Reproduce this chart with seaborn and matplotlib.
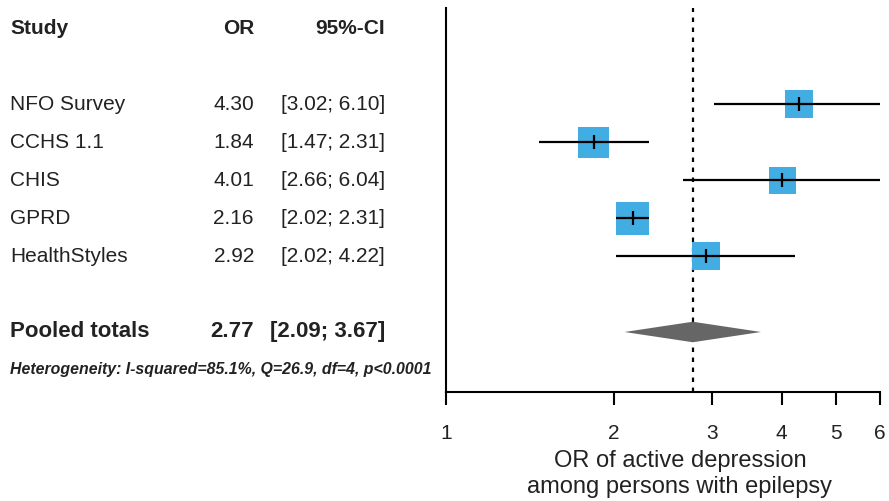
import matplotlib
matplotlib.use("Agg")
import matplotlib.pyplot as plt
import matplotlib.transforms as mtransforms
import numpy as np
import pandas as pd
import seaborn as sns

studies = ["NFO Survey", "CCHS 1.1", "CHIS", "GPRD", "HealthStyles"]
odds_ratio = [4.30, 1.84, 4.01, 2.16, 2.92]
ci_low = [3.02, 1.47, 2.66, 2.02, 2.02]
ci_high = [6.10, 2.31, 6.04, 2.31, 4.22]
weights = [18.0, 22.1, 16.8, 25.1, 18.0]

pooled_or = 2.77
pooled_low = 2.09
pooled_high = 3.67
heterogeneity = "Heterogeneity: I-squared=85.1%, Q=26.9, df=4, p<0.0001"

xticks = [1, 2, 3, 4, 5, 6]

df = pd.DataFrame({"Study": studies, "OR": odds_ratio, "lo": ci_low,
                   "hi": ci_high, "weight": weights})
df["row"] = np.arange(len(df)) + 2
pooled_row = 8
het_row = 9

sns.set_style("white")
plt.rcParams["font.family"] = ["Liberation Sans", "DejaVu Sans"]
txt_col = "#222222"

fig = plt.figure(figsize=(8.89, 5.01), dpi=100)
ax = fig.add_axes([446 / 889, 109 / 501, 434 / 889, 384 / 501])
ax.set_xscale("log")

# study boxes (area ~ weight)
k = 22.5
sns.scatterplot(data=df, x="OR", y="row", size="weight",
                sizes=(k * min(weights), k * max(weights)), marker="s",
                color="#41ade2", edgecolor="none", linewidth=0, legend=False,
                ax=ax, zorder=2, clip_on=True)

# confidence intervals and point ticks
ax.hlines(df["row"], df["lo"], df["hi"], color="black", lw=1.6, zorder=3)
ax.scatter(df["OR"], df["row"], marker="|", s=110, color="black", lw=1.6, zorder=4)

# pooled diamond
h = 0.27
ax.fill([pooled_low, pooled_or, pooled_high, pooled_or],
        [pooled_row, pooled_row - h, pooled_row, pooled_row + h],
        color="#666666", lw=0, zorder=3)
ax.axvline(pooled_or, color="black", lw=1.6, ls=(0, (2, 2.5)), zorder=1)

ax.set_xlim(1, 6)
ax.set_ylim(9.58, -0.53)
ax.set_xticks(xticks)
ax.set_xticklabels([str(t) for t in xticks])
ax.minorticks_off()
ax.set_yticks([])
ax.set_xlabel("")
ax.set_ylabel("")
for s in ["top", "right"]:
    ax.spines[s].set_visible(False)
for s in ["left", "bottom"]:
    ax.spines[s].set_color("black")
    ax.spines[s].set_linewidth(1.5)
ax.tick_params(axis="x", direction="out", length=9, width=1.5, color="black",
               bottom=True, pad=14, labelsize=15, labelcolor=txt_col)

ax.text(0.539, -0.152, "OR of active depression\namong persons with epilepsy",
        transform=ax.transAxes, ha="center", va="top", fontsize=17,
        color=txt_col, linespacing=1.2)

# left table
tr = mtransforms.blended_transform_factory(fig.transFigure, ax.transData)
x_study, x_or, x_ci = 10 / 889, 254 / 889, 385 / 889
fs = 15
ax.text(x_study, 0, "Study", transform=tr, ha="left", va="center",
        fontsize=fs, fontweight="bold", color=txt_col)
ax.text(x_or, 0, "OR", transform=tr, ha="right", va="center",
        fontsize=fs, fontweight="bold", color=txt_col)
ax.text(x_ci, 0, "95%-CI", transform=tr, ha="right", va="center",
        fontsize=fs, fontweight="bold", color=txt_col)
for _, r in df.iterrows():
    ax.text(x_study, r["row"], r["Study"], transform=tr, ha="left", va="center",
            fontsize=fs, color=txt_col)
    ax.text(x_or, r["row"], f"{r['OR']:.2f}", transform=tr, ha="right",
            va="center", fontsize=fs, color=txt_col)
    ax.text(x_ci, r["row"], f"[{r['lo']:.2f}; {r['hi']:.2f}]", transform=tr,
            ha="right", va="center", fontsize=fs, color=txt_col)
ax.text(x_study, pooled_row, "Pooled totals", transform=tr, ha="left",
        va="center", fontsize=fs + 1, fontweight="bold", color=txt_col)
ax.text(x_or, pooled_row, f"{pooled_or:.2f}", transform=tr, ha="right",
        va="center", fontsize=fs + 1, fontweight="bold", color=txt_col)
ax.text(x_ci, pooled_row, f"[{pooled_low:.2f}; {pooled_high:.2f}]", transform=tr,
        ha="right", va="center", fontsize=fs + 1, fontweight="bold", color=txt_col)
ax.text(x_study, het_row, heterogeneity, transform=tr, ha="left", va="center",
        fontsize=11.4, fontweight="bold", fontstyle="italic", color=txt_col)

fig.savefig("out.png", dpi=100)
